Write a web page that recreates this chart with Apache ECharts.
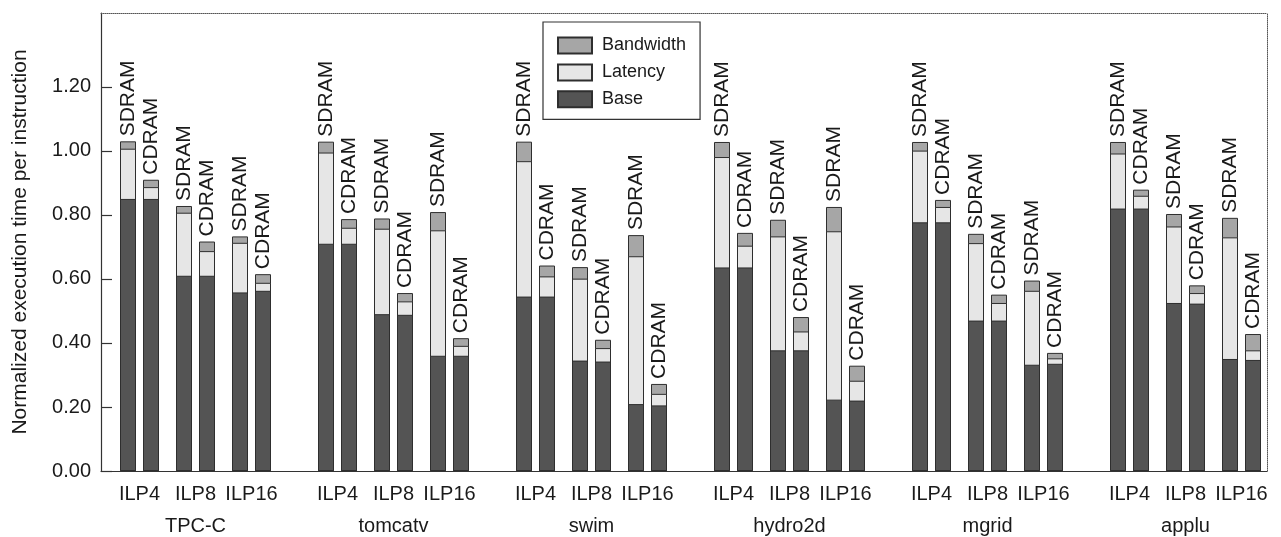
<!DOCTYPE html>
<html>
<head>
<meta charset="utf-8">
<script src="https://cdn.jsdelivr.net/npm/echarts@6/dist/echarts.min.js"></script>
<style>html,body{margin:0;padding:0;background:#fff;}#chart{width:1281px;height:537px;}</style>
</head>
<body>
<div id="chart"></div>
<script>
// ---- data ----
const groups = ['TPC-C', 'tomcatv', 'swim', 'hydro2d', 'mgrid', 'applu'];
const ilpLevels = ['ILP4', 'ILP8', 'ILP16'];
const memTypes = ['SDRAM', 'CDRAM'];
// order per group: ILP4 SDRAM, ILP4 CDRAM, ILP8 SDRAM, ILP8 CDRAM, ILP16 SDRAM, ILP16 CDRAM
const base = [
  0.850, 0.850, 0.610, 0.610, 0.558, 0.563,
  0.710, 0.710, 0.490, 0.488, 0.360, 0.360,
  0.545, 0.545, 0.345, 0.342, 0.209, 0.205,
  0.636, 0.636, 0.377, 0.377, 0.223, 0.220,
  0.777, 0.777, 0.470, 0.470, 0.332, 0.335,
  0.820, 0.820, 0.525, 0.523, 0.350, 0.347
];
const latency = [
  0.157, 0.037, 0.197, 0.077, 0.155, 0.025,
  0.285, 0.050, 0.267, 0.042, 0.392, 0.031,
  0.423, 0.063, 0.256, 0.042, 0.462, 0.036,
  0.345, 0.068, 0.356, 0.059, 0.526, 0.062,
  0.224, 0.048, 0.242, 0.055, 0.231, 0.017,
  0.172, 0.040, 0.239, 0.033, 0.380, 0.030
];
const bandwidth = [
  0.023, 0.023, 0.021, 0.030, 0.020, 0.027,
  0.034, 0.027, 0.032, 0.026, 0.057, 0.024,
  0.061, 0.034, 0.036, 0.026, 0.066, 0.031,
  0.047, 0.040, 0.052, 0.045, 0.076, 0.047,
  0.027, 0.022, 0.029, 0.026, 0.032, 0.017,
  0.036, 0.019, 0.039, 0.024, 0.061, 0.051
];
const yTicks = [0, 0.2, 0.4, 0.6, 0.8, 1.0, 1.2];
const seriesNames = ['Bandwidth', 'Latency', 'Base'];

// ---- layout (x axis is a value axis in pixel-like units) ----
const GROUP_STEP = 198, PAIR_STEP = 56, BAR_STEP = 23;
function barX(i) {
  const g = Math.floor(i / 6), r = i % 6, p = Math.floor(r / 2), m = r % 2;
  return g * GROUP_STEP + p * PAIR_STEP + m * BAR_STEP;
}
const pairCenters = [], pairLabel = {};
groups.forEach((gname, g) => ilpLevels.forEach((lv, p) => {
  const v = g * GROUP_STEP + p * PAIR_STEP + BAR_STEP / 2;
  pairCenters.push(v); pairLabel[v] = lv;
}));
const groupCenters = [], groupLabel = {};
groups.forEach((gname, g) => {
  const v = g * GROUP_STEP + PAIR_STEP + BAR_STEP / 2;
  groupCenters.push(v); groupLabel[v] = gname;
});

const cumBase = base.map((v, i) => [barX(i), v]);
const cumLat = base.map((v, i) => [barX(i), v + latency[i]]);
const cumBw = base.map((v, i) => [barX(i), v + latency[i] + bandwidth[i]]);

const FONT = 'Liberation Sans, Arial, Helvetica, sans-serif';
const TXT = '#1a1a1a';
const BORDER = '#2e2e2e';

const chart = echarts.init(document.getElementById('chart'), null, {renderer: 'canvas'});
const barCommon = {
  type: 'bar', barWidth: 16, barGap: '-100%', xAxisIndex: 0, yAxisIndex: 0,
  animation: false, silent: true
};
chart.setOption({
  animation: false,
  backgroundColor: '#fff',
  textStyle: {fontFamily: FONT},
  grid: {left: 101, right: 14, top: 13, bottom: 66, containLabel: false},
  legend: {
    data: seriesNames, orient: 'vertical', left: 543, top: 22,
    itemWidth: 34, itemHeight: 16, itemGap: 8.9, icon: 'rect',
    padding: [14.5, 14, 11, 14], borderColor: '#333', borderWidth: 1.2,
    selectedMode: false,
    textStyle: {fontSize: 18, color: TXT, fontFamily: FONT, padding: [0, 0, 0, 5]}
  },
  xAxis: [
    {
      type: 'value', position: 'bottom', min: -27, max: 1139,
      axisLine: {show: true, onZero: false, lineStyle: {color: '#333', width: 1.2}},
      axisTick: {show: false}, splitLine: {show: false},
      axisLabel: {
        customValues: pairCenters, fontSize: 20, color: TXT, margin: 13, fontFamily: FONT,
        formatter: v => pairLabel[v] || ''
      }
    },
    {
      type: 'value', position: 'bottom', min: -27, max: 1139,
      axisLine: {show: false}, axisTick: {show: false}, splitLine: {show: false},
      axisLabel: {
        customValues: groupCenters, fontSize: 20, color: TXT, margin: 45, fontFamily: FONT,
        formatter: v => groupLabel[v] || ''
      }
    },
    {
      type: 'value', position: 'top', min: -27, max: 1139,
      axisLine: {show: true, onZero: false, lineStyle: {color: '#555', width: 1, type: 'dotted'}},
      axisTick: {show: false}, axisLabel: {show: false}, splitLine: {show: false}
    }
  ],
  yAxis: [
    {
      type: 'value', position: 'left', min: 0, max: 1.431,
      name: 'Normalized execution time per instruction',
      nameLocation: 'middle', nameRotate: 90, nameGap: 70,
      nameTextStyle: {fontSize: 21, color: TXT, fontFamily: FONT},
      axisLine: {show: true, onZero: false, lineStyle: {color: '#333', width: 1.2}},
      axisTick: {show: true, inside: true, length: 11, customValues: yTicks, lineStyle: {color: '#333', width: 1.2}},
      splitLine: {show: false},
      axisLabel: {customValues: yTicks, fontSize: 20, color: TXT, margin: 10, fontFamily: FONT,
        formatter: v => v.toFixed(2)}
    },
    {
      type: 'value', position: 'right', min: 0, max: 1.431,
      axisLine: {show: true, onZero: false, lineStyle: {color: '#555', width: 1, type: 'dotted'}},
      axisTick: {show: false}, axisLabel: {show: false}, splitLine: {show: false}
    }
  ],
  series: [
    Object.assign({}, barCommon, {
      name: 'Bandwidth', data: cumBw,
      itemStyle: {color: '#a6a6a6', borderColor: BORDER, borderWidth: 1},
      label: {
        show: true, position: 'top', rotate: 90, align: 'left', verticalAlign: 'middle',
        distance: 5, fontSize: 21, color: TXT, fontFamily: FONT,
        formatter: p => memTypes[p.dataIndex % 2]
      }
    }),
    Object.assign({}, barCommon, {
      name: 'Latency', data: cumLat,
      itemStyle: {color: '#e6e6e6', borderColor: BORDER, borderWidth: 1}
    }),
    Object.assign({}, barCommon, {
      name: 'Base', data: cumBase,
      itemStyle: {color: '#545454', borderColor: BORDER, borderWidth: 1}
    })
  ]
});
</script>
</body>
</html>
